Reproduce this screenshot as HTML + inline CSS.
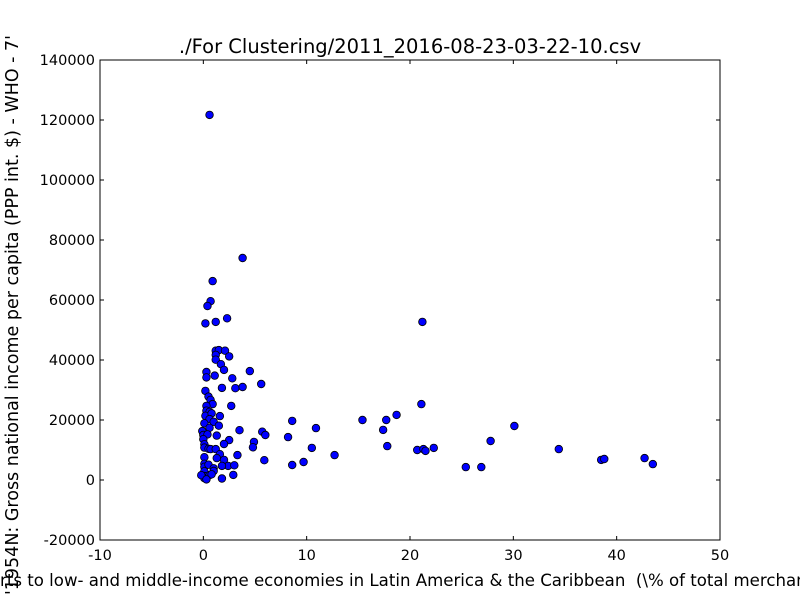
<!DOCTYPE html>
<html><head><meta charset="utf-8"><style>
body{margin:0;background:#fff}
svg{display:block;font-family:"DejaVu Sans","Liberation Sans",sans-serif}
</style></head><body>
<svg id="chart" width="800" height="600" viewBox="0 0 800 600">
<rect x="0" y="0" width="800" height="600" fill="#fff"/>
<text x="410" y="53" text-anchor="middle" font-size="19.5">./For Clustering/2011_2016-08-23-03-22-10.csv</text>
<g id="points"></g>
<rect x="100" y="60" width="620" height="480" fill="none" stroke="#000" stroke-width="1"/>
<g id="axes"></g>
<text x="0" y="586" font-size="16.6" style="white-space:pre">rts to low- and middle-income economies in Latin America &amp; the Caribbean  (\% of total merchandise exports)</text>
<text transform="translate(18,35) rotate(-90)" text-anchor="end" font-size="17.5">'1954N: Gross national income per capita (PPP int. $) - WHO - 7'</text>
</svg>
<script>
const xTicks=[-10,0,10,20,30,40,50];
const yTicks=[-20000,0,20000,40000,60000,80000,100000,120000,140000];
const xVals=[0.6,3.8,0.9,0.7,0.4,2.3,0.2,1.2,1.2,1.5,2.1,2.5,1.2,1.2,1.7,2.0,4.5,0.3,0.3,1.1,2.8,5.6,1.8,3.1,3.8,0.2,0.5,0.7,0.9,0.3,2.7,0.3,0.6,0.2,0.8,1.6,0.6,1.0,0.1,1.5,0.6,-0.1,3.5,5.7,6.0,0,0.4,1.3,0,2.5,2.0,4.9,4.8,0.1,0.1,0.5,0.7,1.2,3.3,5.9,1.6,1.3,2.0,0.1,2.4,3.0,1.8,0.1,0.1,0.5,1.0,1.0,0.1,2.9,1.8,0.1,0.1,0.6,0.8,-0.2,0.3,
8.2,8.6,10.9,8.6,9.7,10.5,12.7,15.4,17.4,17.7,17.8,18.7,20.7,21.2,21.1,21.3,21.5,22.3,25.4,26.9,27.8,30.1,34.4,38.5,38.8,42.7,43.5];
const yVals=[121700,74000,66300,59600,58000,53900,52200,52700,43100,43300,43100,41200,41700,40100,38600,36700,36300,36000,34200,34800,33900,32000,30700,30600,31000,29700,27800,26700,25300,24700,24700,23100,22700,21400,22200,21300,20300,19400,18900,18100,17400,16300,16600,16100,15000,15000,15200,14800,13600,13300,12000,12700,10900,11900,10800,10400,10300,10300,8300,6600,8600,7300,6700,7600,4700,4900,4700,5400,4400,5100,3900,3000,2900,1700,500,1300,600,1600,1900,1600,200,
14300,19700,17300,5000,6000,10700,8300,20000,16700,20000,11300,21700,10000,52700,25300,10300,9700,10700,4300,4300,13000,18000,10300,6700,7000,7300,5300];
const NS='http://www.w3.org/2000/svg';
const X=v=>100+(v+10)/60*620;
const Y=v=>540-(v+20000)/160000*480;
const pts=document.getElementById('points');
for(let i=0;i<xVals.length;i++){
  const c=document.createElementNS(NS,'circle');
  c.setAttribute('cx',X(xVals[i]));c.setAttribute('cy',Y(yVals[i]));c.setAttribute('r',3.8);
  c.setAttribute('fill','#0000ff');c.setAttribute('stroke','#000');c.setAttribute('stroke-width','0.8');
  
  
  pts.appendChild(c);
}
const ax=document.getElementById('axes');
function mk(tag,attrs){const e=document.createElementNS(NS,tag);for(const k in attrs)e.setAttribute(k,attrs[k]);ax.appendChild(e);return e;}
xTicks.forEach(t=>{
  const x=X(t);
  const a=mk('line',{x1:x,x2:x,y1:540,y2:536,stroke:'#000'});
  
  
  const b=mk('line',{x1:x,x2:x,y1:60,y2:64,stroke:'#000'});
  
  
  const l=mk('text',{x:x,y:560,'text-anchor':'middle','font-size':'14.5'});l.textContent=t;
  
  
});
yTicks.forEach(t=>{
  const y=Y(t);
  const a=mk('line',{x1:100,x2:104,y1:y,y2:y,stroke:'#000'});
  
  
  const b=mk('line',{x1:716,x2:720,y1:y,y2:y,stroke:'#000'});
  
  
  const l=mk('text',{x:95,y:y+5,'text-anchor':'end','font-size':'14.5'});l.textContent=t;
  
  
});
</script>
</body></html>
